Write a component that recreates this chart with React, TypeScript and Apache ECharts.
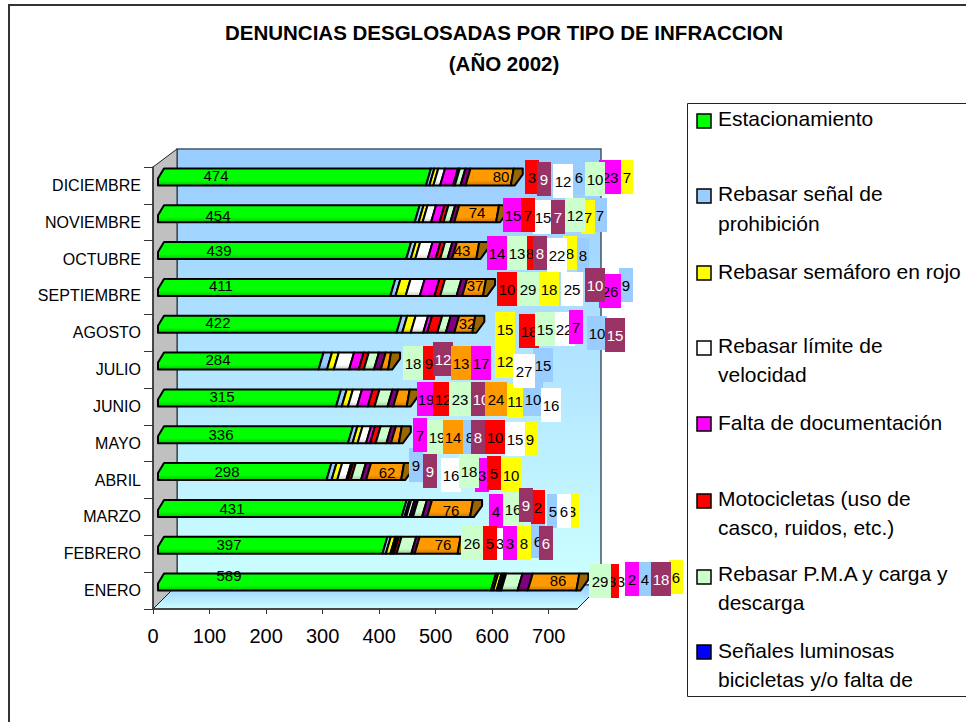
import React, { useEffect, useRef } from "react";
import * as echarts from "echarts";

const FONT = '"Liberation Sans", Arial, sans-serif';

const months = ["ENERO", "FEBRERO", "MARZO", "ABRIL", "MAYO", "JUNIO", "JULIO", "AGOSTO", "SEPTIEMBRE", "OCTUBRE", "NOVIEMBRE", "DICIEMBRE"];

// Values, January to December
const estacionamiento = [589, 397, 431, 298, 336, 315, 284, 422, 411, 439, 454, 474];
const prohibicion = [4, 6, 5, 9, 8, 10, 15, 10, 9, 8, 7, 6];
const semaforo = [6, 8, 3, 10, 9, 11, 12, 15, 18, 8, 7, 7];
const velocidad = [3, 3, 6, 16, 15, 16, 27, 22, 25, 22, 15, 12];
const documentacion = [2, 3, 4, 3, 7, 19, 17, 7, 26, 14, 15, 23];
const motocicletas = [3, 5, 2, 5, 10, 12, 9, 18, 10, 8, 7, 3];
const pma = [29, 26, 16, 18, 19, 23, 18, 15, 29, 13, 12, 10];
const purpura = [18, 6, 9, 9, 8, 10, 12, 15, 10, 8, 7, 9];
const naranja = [86, 76, 76, 62, 14, 24, 13, 32, 37, 43, 74, 80];

const stackOrder = [
  { name: "Estacionamiento", values: estacionamiento, bar: "#00ff00", tag: "#00ff00" },
  { name: "Rebasar señal de prohibición", values: prohibicion, bar: "#99ccff", tag: "#99ccff" },
  { name: "Rebasar semáforo en rojo", values: semaforo, bar: "#ffff00", tag: "#ffff00" },
  { name: "Rebasar límite de velocidad", values: velocidad, bar: "#ffffff", tag: "#ffffff" },
  { name: "Falta de documentación", values: documentacion, bar: "#ff00ff", tag: "#ff00ff" },
  { name: "Motocicletas", values: motocicletas, bar: "#ff0000", tag: "#ff0000" },
  { name: "Rebasar P.M.A y carga y descarga", values: pma, bar: "#ccffcc", tag: "#ccffcc" },
  { name: "Serie 9", values: purpura, bar: "#800080", tag: "#993366" },
  { name: "Serie 10", values: naranja, bar: "#ff9900", tag: "#ff9900" },
];

// Manually-placed data labels: [left, right, top] in page pixels, January to December
const tagsProhibicion = [[639, 651, 562], [531, 545, 524], [547, 559, 494], [409, 423, 448], [463, 477, 420], [523, 543, 382], [533, 553, 348], [587, 607, 316], [619, 633, 268], [577, 589, 238], [593, 607, 198], [573, 585, 160]];
const tagsSemaforo = [[669, 683, 560], [517, 531, 526], [565, 579, 494], [501, 521, 458], [523, 537, 422], [507, 523, 384], [495, 515, 344], [495, 515, 312], [539, 559, 272], [563, 577, 236], [581, 595, 200], [621, 633, 160]];
const tagsVelocidad = [[614, 628, 564], [493, 507, 526], [557, 571, 494], [441, 461, 458], [505, 525, 422], [541, 561, 388], [513, 535, 354], [553, 575, 312], [561, 583, 272], [547, 567, 238], [533, 553, 200], [553, 573, 164]];
const tagsDocumentacion = [[625, 639, 562], [503, 517, 526], [489, 503, 494], [475, 489, 458], [413, 427, 418], [417, 435, 382], [471, 491, 346], [569, 583, 310], [599, 621, 274], [487, 507, 236], [503, 523, 198], [599, 621, 160]];
const tagsMotocicletas = [[605, 619, 564], [483, 497, 526], [531, 545, 490], [487, 501, 456], [485, 505, 420], [433, 453, 382], [423, 435, 346], [519, 539, 314], [497, 517, 272], [523, 537, 236], [521, 535, 198], [525, 539, 160]];
const tagsPma = [[589, 611, 564], [461, 483, 526], [503, 523, 492], [459, 479, 454], [427, 447, 420], [449, 471, 382], [403, 423, 346], [535, 555, 312], [517, 539, 272], [507, 527, 236], [565, 585, 198], [585, 605, 162]];
const tagsPurpura = [[651, 671, 562], [539, 553, 526], [519, 533, 488], [423, 437, 454], [471, 485, 420], [471, 491, 382], [433, 453, 342], [605, 625, 318], [585, 605, 268], [533, 547, 236], [551, 565, 200], [537, 551, 162]];
const tagsNaranja = [null, null, null, null, [443, 463, 420], [485, 507, 382], [451, 471, 346], null, null, null, null, null];
const tagLayout = [null, tagsProhibicion, tagsSemaforo, tagsVelocidad, tagsDocumentacion, tagsMotocicletas, tagsPma, tagsPurpura, tagsNaranja];

// Plain labels placed on the bars: [centre x, centre y]
const plainGreen = [[229, 575], [229, 544], [232, 508], [227, 471], [221, 434], [222, 396], [218, 359], [218, 322], [221, 285], [219, 250], [218, 215], [216, 175]];
const plainOrange = [[558, 580], [443, 544], [451, 510], [387, 472], null, null, null, [467, 323], [475, 285], [462, 250], [477, 212], [501, 176]];

const legendEntries = [
  { color: "#00ff00", icon: 121, lines: [["Estacionamiento", 118]] },
  { color: "#99ccff", icon: 196, lines: [["Rebasar señal de", 193], ["prohibición", 223]] },
  { color: "#ffff00", icon: 273, lines: [["Rebasar semáforo en rojo", 271]] },
  { color: "#ffffff", icon: 348, lines: [["Rebasar límite de", 345], ["velocidad", 374]] },
  { color: "#ff00ff", icon: 424, lines: [["Falta de documentación", 422]] },
  { color: "#ff0000", icon: 501, lines: [["Motocicletas (uso de", 498], ["casco, ruidos, etc.)", 527]] },
  { color: "#ccffcc", icon: 577, lines: [["Rebasar P.M.A y carga y", 573], ["descarga", 602]] },
  { color: "#0000ff", icon: 652, lines: [["Señales luminosas", 650], ["bicicletas y/o falta de", 679]] },
];

const darken = (hex: string) => {
  const n = parseInt(hex.slice(1), 16);
  const f = (c: number) => Math.round(c * 0.78);
  return `rgb(${f((n >> 16) & 255)},${f((n >> 8) & 255)},${f(n & 255)})`;
};

export default function App() {
  const ref = useRef<HTMLDivElement>(null);
  useEffect(() => {
    const chart = echarts.init(ref.current!, null, { renderer: "svg" });
    const GX = 153, GY = 167, GW = 424, GH = 442, D = 24;

    const running = months.map(() => 0);
    const barSeries: any[] = stackOrder.map((s, si) => {
      const data = months.map((_, m) => {
        const a = running[m];
        running[m] += s.values[m];
        return [m, a, running[m]];
      });
      return {
        type: "custom",
        name: s.name,
        z: 3,
        silent: true,
        encode: { x: [1, 2], y: 0 },
        data,
        renderItem: (_: any, api: any) => {
          const cat = api.value(0);
          const [px0, cy] = api.coord([api.value(1), cat]);
          const [px1] = api.coord([api.value(2), cat]);
          const x0 = px0 + 5, x1 = px1 + 5, yb = cy, yt = cy - 17;
          const last = si === stackOrder.length - 1;
          const fill = new echarts.graphic.LinearGradient(0, 0, 0, 1, [
            { offset: 0, color: s.bar },
            { offset: 0.7, color: s.bar },
            { offset: 1, color: darken(s.bar) },
          ]);
          const stroke = { stroke: "#000", lineWidth: 2, lineJoin: "round" };
          const pts = si === 0
            ? [[x0, yb], [x0, yb - 7], [x0 + 6, yt], [x1 + 5, yt], [x1, yb]]
            : last
              ? [[x0, yb], [x0 + 5, yt], [x1 + 3, yt], [x1, yb]]
              : [[x0, yb], [x0 + 5, yt], [x1 + 5, yt], [x1, yb]];
          const children: any[] = [{ type: "polygon", shape: { points: pts }, style: { fill, ...stroke } }];
          if (last) {
            children.push({
              type: "polygon",
              shape: { points: [[x1, yb], [x1 + 4, yb], [x1 + 12, yt + 6], [x1 + 12, yt], [x1 + 3, yt]] },
              style: { fill: "#996600", ...stroke },
            });
          }
          return { type: "group", children };
        },
      };
    });

    const tagSeries: any[] = stackOrder.map((s, si) => ({
      type: "custom",
      name: s.name + " etiquetas",
      z: 10 + si,
      silent: true,
      encode: { x: 1, y: 0 },
      data: months.map((_, m) => [m, s.values[m]]),
      renderItem: (params: any, api: any) => {
        const m = api.value(0);
        const value = String(api.value(1));
        const box = tagLayout[si]?.[m];
        const children: any[] = [];
        if (box) {
          const [l, r, t] = box as number[];
          children.push({ type: "rect", shape: { x: l, y: t, width: r - l, height: 34 }, style: { fill: s.tag } });
          children.push({
            type: "text",
            style: { text: value, x: (l + r) / 2, y: t + 17, align: "center", verticalAlign: "middle", fill: si === 7 ? "#ffffff" : "#000000", fontSize: 15, fontFamily: FONT },
          });
        } else {
          const p = si === 0 ? plainGreen[m] : plainOrange[m];
          if (p) {
            children.push({
              type: "text",
              style: { text: value, x: p[0], y: p[1], align: "center", verticalAlign: "middle", fill: "#000000", fontSize: 15, fontFamily: FONT },
            });
          }
        }
        return { type: "group", children };
      },
    }));

    const legendGraphics: any[] = [
      { type: "rect", shape: { x: 687.5, y: 103.5, width: 320, height: 593 }, style: { fill: "#fff", stroke: "#222", lineWidth: 1 } },
    ];
    legendEntries.forEach((e) => {
      legendGraphics.push({
        type: "rect",
        shape: { x: 697, y: e.icon - 7, width: 14, height: 14 },
        style: { fill: e.color, stroke: "#000", lineWidth: 1.5 },
      });
      e.lines.forEach(([t, y]) => {
        legendGraphics.push({
          type: "text",
          style: { text: t, x: 718, y, fontSize: 21, fontFamily: FONT, fill: "#000", verticalAlign: "middle", align: "left" },
        });
      });
    });

    chart.setOption({
      animation: false,
      backgroundColor: "#ffffff",
      title: {
        text: "DENUNCIAS DESGLOSADAS POR TIPO DE INFRACCION\n(AÑO 2002)",
        left: 499,
        top: 12,
        textAlign: "center",
        textStyle: { fontFamily: FONT, fontSize: 20.5, fontWeight: "bold", lineHeight: 31, color: "#000" },
      },
      grid: { left: GX, top: GY, width: GW, height: GH, containLabel: false },
      xAxis: {
        type: "value",
        min: 0,
        max: 750,
        interval: 100,
        splitLine: { show: false },
        axisLine: { show: true, lineStyle: { color: "#333", width: 1.5 } },
        axisTick: { show: true, length: 5, lineStyle: { color: "#333" }, customValues: [0, 100, 200, 300, 400, 500, 600, 700] },
        axisLabel: { fontFamily: FONT, fontSize: 20, color: "#000", margin: 17, customValues: [0, 100, 200, 300, 400, 500, 600, 700] },
      },
      yAxis: {
        type: "category",
        data: months,
        axisLine: { show: true, onZero: false, lineStyle: { color: "#333", width: 1.5 } },
        axisTick: { show: true, length: 9, alignWithLabel: false, lineStyle: { color: "#333" } },
        axisLabel: { fontFamily: FONT, fontSize: 16, color: "#000", margin: 12, interval: 0 },
      },
      graphic: [
        ...[
          { type: "polyline", shape: { points: [[9, 722], [9, 5], [966, 5]] }, style: { stroke: "#333", lineWidth: 2, fill: "none" } },
          {
            type: "polygon",
            shape: { points: [[GX + D, GY - 18], [GX + GW + D, GY - 18], [GX + GW + D, GY + GH - D], [GX + D, GY + GH - D]] },
            style: {
              fill: new echarts.graphic.LinearGradient(0, 0, 0, 1, [{ offset: 0, color: "#99ccff" }, { offset: 1, color: "#ccffff" }]),
              stroke: "#44546a",
              lineWidth: 1.5,
            },
          },
          {
            type: "polygon",
            shape: { points: [[GX, GY], [GX + D, GY - 18], [GX + D, GY + GH - D], [GX, GY + GH]] },
            style: { fill: "#c0c0c0", stroke: "#222", lineWidth: 1 },
          },
          {
            type: "polygon",
            shape: { points: [[GX, GY + GH], [GX + D, GY + GH - D], [GX + GW + D, GY + GH - D], [GX + GW, GY + GH]] },
            style: {
              fill: new echarts.graphic.LinearGradient(0, 0, 0, 1, [{ offset: 0, color: "#99ccff" }, { offset: 1, color: "#ccffff" }]),
              stroke: "#222",
              lineWidth: 1,
            },
          },
        ].map((g) => ({ ...g, z: -1 })),
        ...legendGraphics.map((g) => ({ ...g, z: 30 })),
      ],
      series: [...barSeries, ...tagSeries],
    });
    return () => chart.dispose();
  }, []);
  return (
    <div
      ref={ref}
      style={{ position: "fixed", left: 0, top: 0, width: 966, height: 722, overflow: "hidden" }}
    />
  );
}
